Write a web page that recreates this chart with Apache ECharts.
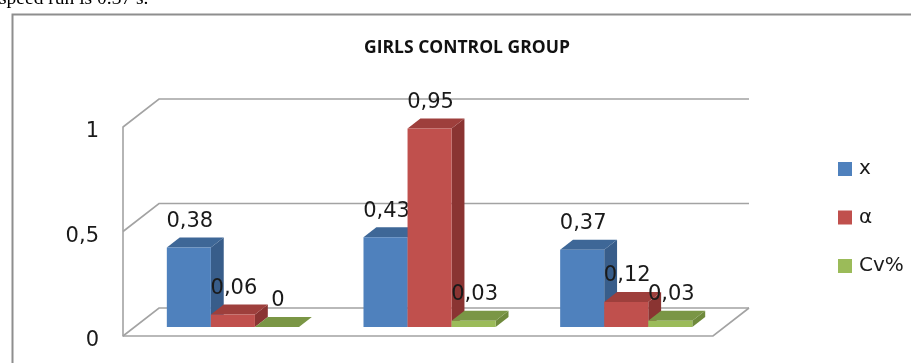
<!DOCTYPE html>
<html>
<head>
<meta charset="utf-8">
<script src="https://cdn.jsdelivr.net/npm/echarts@6/dist/echarts.min.js"></script>
<style>
  html, body { margin: 0; padding: 0; background: #ffffff; }
  #chart { width: 911px; height: 363px; }
</style>
</head>
<body>
<div id="chart"></div>
<script>
// Categories (three unnamed groups) and the three measured series
const categories = ['1', '2', '3'];
const seriesNames = ['x', 'α', 'Cv%'];
const valuesX = [0.38, 0.43, 0.37];
const valuesAlpha = [0.06, 0.95, 0.12];
const valuesCv = [0, 0.03, 0.03];
const yTicks = [0, 0.5, 1];

// Face colours per series: front, top, side
const palette = [
  { front: '#4F81BD', top: '#3E6797', side: '#385D8A' },
  { front: '#C0504D', top: '#9E3F3C', side: '#8A3432' },
  { front: '#9BBB59', top: '#7A9645', side: '#6F8A3C' }
];

// Pseudo-3D depth of the plot box (back wall offset)
const DX = 36, DY = -28;
const D0 = 9 / 28, D1 = 19 / 28;   // bars occupy the middle slice of the depth
const BAR_FRAC = 0.224;             // bar width as a share of a category band
const WALL = '#A3A3A3';
const LABEL_FONT = 'DejaVu Sans';

function fmt(v) { return String(v).replace('.', ','); }

function wallItem(params, api) {
  const cs = params.coordSys;
  const v = api.value(0);
  const y = api.coord([0, v])[1];
  const x0 = cs.x, x1 = cs.x + cs.width;
  const pts = [[x0, y], [x0 + DX, y + DY], [x1 + DX, y + DY]];
  const children = [{
    type: 'polyline', shape: { points: pts },
    style: { stroke: WALL, lineWidth: 1.6, fill: null }
  }];
  if (v === 0) {
    children.push({
      type: 'polyline',
      shape: { points: [[x0, y], [x1, y], [x1 + DX, y + DY]] },
      style: { stroke: WALL, lineWidth: 1.6, fill: null }
    });
  }
  return { type: 'group', children };
}

function barRenderer(sIdx) {
  const c = palette[sIdx];
  return function (params, api) {
    const idx = api.value(0), v = api.value(1);
    const base = api.coord([idx, 0]);
    const top = api.coord([idx, v]);
    const band = api.size([1, 0])[0];
    const bw = band * BAR_FRAC;
    const fx = base[0] - 1.5 * bw + sIdx * bw + DX * D0;
    const by = base[1] + DY * D0;
    const ty = top[1] + DY * D0;
    const ddx = DX * (D1 - D0), ddy = DY * (D1 - D0);
    return {
      type: 'group',
      children: [
        { type: 'polygon', shape: { points: [[fx + bw, ty], [fx + bw + ddx, ty + ddy], [fx + bw + ddx, by + ddy], [fx + bw, by]] },
          style: { fill: c.side } },
        { type: 'polygon', shape: { points: [[fx, ty], [fx + ddx, ty + ddy], [fx + bw + ddx, ty + ddy], [fx + bw, ty]] },
          style: { fill: c.top } },
        { type: 'rect', shape: { x: fx, y: ty, width: bw, height: by - ty },
          style: { fill: c.front } },
        { type: 'text', x: fx + bw / 2 + 1, y: ty - 26, z2: 10,
          style: { text: fmt(v), fill: '#1a1a1a', font: '21px "' + LABEL_FONT + '"', align: 'center', verticalAlign: 'middle' } }
      ]
    };
  };
}

const seriesValues = [valuesX, valuesAlpha, valuesCv];

const chart = echarts.init(document.getElementById('chart'), null, { renderer: 'canvas' });
chart.setOption({
  backgroundColor: '#ffffff',
  animation: false,
  title: {
    text: 'GIRLS CONTROL GROUP',
    left: 462, top: 34, textAlign: 'center',
    textStyle: { fontFamily: 'Open Sans', fontWeight: 'bold', fontSize: 17.5, color: '#111111' }
  },
  graphic: [
    { type: 'text', left: -1, top: -11,
      style: { text: 'speed run is 0.37 s.', font: '19.5px "Liberation Serif"', fill: '#000000' } },
    { type: 'rect', left: 10, top: 12, shape: { x: 0, y: 0, width: 960, height: 400 },
      style: { fill: null, stroke: '#8E8E8E', lineWidth: 2 } }
  ],
  legend: {
    data: seriesNames,
    orient: 'vertical',
    left: 833, top: 154,
    itemWidth: 14, itemHeight: 14, itemGap: 28.5,
    icon: 'rect',
    textStyle: { fontFamily: LABEL_FONT, fontSize: 20, color: '#1a1a1a', lineHeight: 20, padding: [0, 0, 0, 2] }
  },
  grid: { left: 123, right: 198, top: 127, bottom: 27 },
  xAxis: {
    type: 'category', data: categories,
    axisLine: { show: false }, axisTick: { show: false }, axisLabel: { show: false }
  },
  yAxis: {
    type: 'value', min: 0, max: 1, interval: 0.5,
    axisLine: { show: true, lineStyle: { color: WALL, width: 1.6 } },
    axisTick: { show: false },
    splitLine: { show: false },
    axisLabel: {
      formatter: v => '{t|' + fmt(v) + '}',
      margin: 24,
      rich: { t: { fontFamily: LABEL_FONT, fontSize: 21, color: '#1a1a1a', padding: [10, 0, 0, 0] } }
    }
  },
  series: [
    { type: 'custom', name: 'wall', silent: true, renderItem: wallItem,
      data: yTicks.map(v => [v]), encode: { y: 0 }, z: 1 }
  ].concat(seriesValues.map((vals, s) => ({
    type: 'custom', name: seriesNames[s], z: 2 + s,
    itemStyle: { color: palette[s].front },
    renderItem: barRenderer(s),
    encode: { x: 0, y: 1 },
    data: vals.map((v, i) => [i, v])
  })))
});
</script>
</body>
</html>
